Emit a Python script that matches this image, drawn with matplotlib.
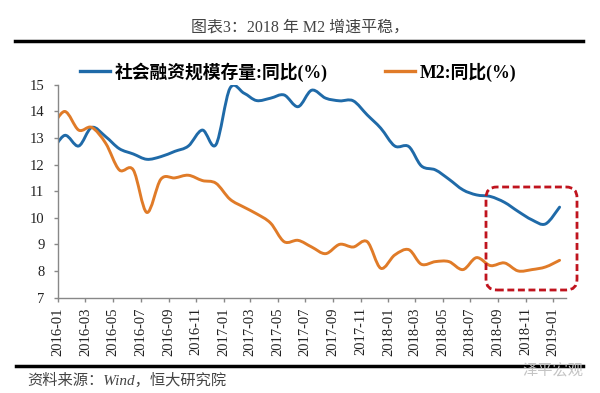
import numpy as np
import pandas as pd
import matplotlib
matplotlib.use('Agg')
import matplotlib.pyplot as plt
import matplotlib.dates as mdates
from matplotlib.path import Path
from matplotlib.patches import PathPatch, FancyBboxPatch
from matplotlib.lines import Line2D
from matplotlib.font_manager import FontProperties

# monthly data, 2015-12 .. 2019-01 (first point sits left of the axis and gets clipped)
months = pd.date_range('2015-12-01', '2019-01-01', freq='MS')
tsf_yoy = [12.4,
           13.1, 12.7, 13.4, 13.05, 12.6, 12.4, 12.2, 12.3, 12.5, 12.7, 13.3, 12.75,
           14.87, 14.69, 14.41, 14.5, 14.62, 14.18, 14.8, 14.5, 14.4, 14.4, 13.87, 13.37,
           12.7, 12.68, 11.95, 11.8, 11.45, 11.05, 10.86, 10.8, 10.58, 10.24, 9.92, 9.77,
           10.4]
m2_yoy = [13.3,
          14.0, 13.3, 13.4, 12.8, 11.8, 11.8, 10.2, 11.45, 11.5, 11.6, 11.4, 11.3,
          10.7, 10.4, 10.15, 9.8, 9.1, 9.15, 8.9, 8.65, 9.0, 8.9, 9.1, 8.1,
          8.6, 8.8, 8.25, 8.35, 8.35, 8.05, 8.5, 8.2, 8.3, 8.0, 8.05, 8.15,
          8.4]
labels = ['社会融资规模存量:同比(%)', 'M2:同比(%)']
colors = ['#1f6aa8', '#e07b28']

CJK = ['Liberation Serif', 'Noto Sans CJK SC', 'DejaVu Sans']
plt.rcParams['font.family'] = CJK


def smooth_path(x, y):
    # Excel-like smoothed line: Catmull-Rom segments as cubic Beziers
    pts = np.column_stack([x, y])
    verts = [pts[0]]
    codes = [Path.MOVETO]
    n = len(pts)
    for i in range(n - 1):
        p0 = pts[i - 1] if i > 0 else pts[i]
        p1, p2 = pts[i], pts[i + 1]
        p3 = pts[i + 2] if i + 2 < n else pts[i + 1]
        verts += [p1 + (p2 - p0) / 6, p2 - (p3 - p1) / 6, p2]
        codes += [Path.CURVE4] * 3
    return Path(verts, codes)


fig = plt.figure(figsize=(6, 3.93), dpi=100)
ax = fig.add_axes([0.0972, 0.243, 0.846, 0.541])

xs = mdates.date2num(months + pd.Timedelta(days=14))
for vals, c in zip([tsf_yoy, m2_yoy], colors):
    ax.add_patch(PathPatch(smooth_path(xs, vals), facecolor='none', edgecolor=c,
                           lw=2.1, capstyle='round', joinstyle='round'))

ax.set_xlim(mdates.date2num(pd.Timestamp('2016-01-01')), mdates.date2num(pd.Timestamp('2019-01-29')))
ax.set_ylim(7, 15)
ax.set_yticks(range(7, 16))

ticks = pd.date_range('2016-01-01', '2019-01-01', freq='2MS')
ax.set_xticks(mdates.date2num(ticks))
ax.set_xticklabels([t.strftime('%Y-%m') for t in ticks], rotation=90)

for s in ['top', 'right']:
    ax.spines[s].set_visible(False)
for s in ['left', 'bottom']:
    ax.spines[s].set_color('#888888')
    ax.spines[s].set_linewidth(1.0)
ax.tick_params(axis='both', direction='out', length=3, width=1.0, color='#888888',
               labelsize=10.5, labelcolor='#222222')
ax.tick_params(axis='x', pad=4)
ax.tick_params(axis='y', pad=7)

handles = [Line2D([], [], color=c, lw=2.4) for c in colors]
ax.legend(handles, labels, ncol=2, loc='center', bbox_to_anchor=(298 / 600, 1 - 72 / 393),
          bbox_transform=fig.transFigure, frameon=False,
          prop=FontProperties(family=CJK, weight='bold', size=12.8),
          handlelength=1.7, handletextpad=0.25, columnspacing=3.2)

# highlight box around the latest months
fig.add_artist(FancyBboxPatch((486 / 600, 103 / 393), 91 / 600, 103 / 393,
                              boxstyle='round,pad=0,rounding_size=0.018', mutation_aspect=600 / 393,
                              transform=fig.transFigure, fill=False, edgecolor='#c0141e',
                              lw=2.0, linestyle=(0, (2.5, 1.3))))

# header / footer
fig.text(0.5, 1 - 28 / 393, '图表3：2018 年 M2 增速平稳，', ha='center', va='center',
         fontsize=11.5, color='#444444')
fig.add_artist(Line2D([15 / 600, 583 / 600], [1 - 41 / 393] * 2, transform=fig.transFigure,
                      color='black', lw=2.5))
fig.add_artist(Line2D([16 / 600, 583 / 600], [1 - 366 / 393] * 2, transform=fig.transFigure,
                      color='black', lw=2.5))
fig.text(27 / 600, 1 - 380 / 393, '资料来源：Wind，恒大研究院', ha='left', va='center',
         fontsize=11, style='italic', color='#444444')
fig.text(583 / 600, 1 - 371 / 393, '泽平宏观', ha='right', va='center',
         fontsize=11, color='#c4c4c4')

fig.savefig('out.png', dpi=100)
